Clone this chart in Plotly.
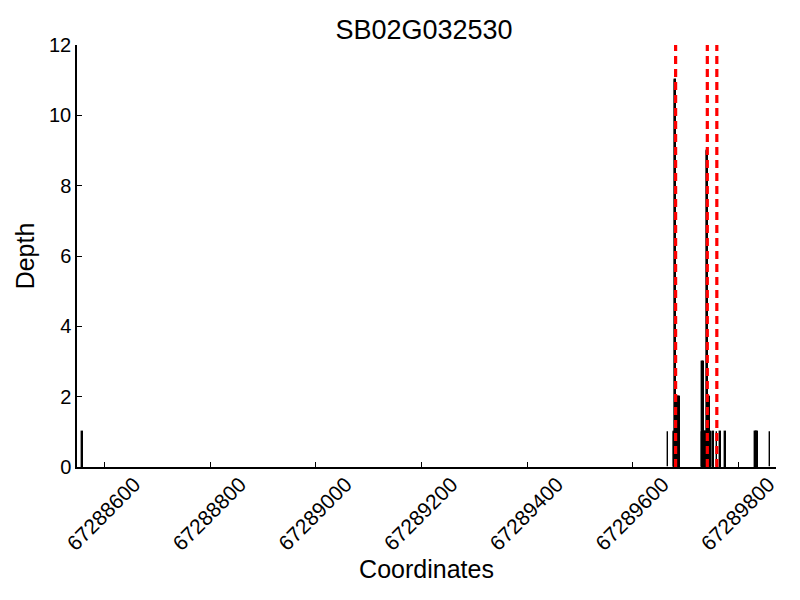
import plotly.graph_objects as go

title_text = "SB02G032530"

positions = [
    67288558,
    67289667,
    67289678, 67289679, 67289680, 67289681, 67289682, 67289683, 67289684,
    67289685, 67289686, 67289687, 67289688, 67289689,
    67289731, 67289732, 67289733, 67289734, 67289735, 67289736, 67289737, 67289738,
    67289739, 67289740, 67289741, 67289742, 67289743, 67289744, 67289745, 67289746,
    67289747, 67289748,
    67289752, 67289753,
    67289759,
    67289766, 67289767,
    67289775,
    67289832, 67289833, 67289834, 67289835, 67289836, 67289837,
    67289860,
]
depths = [
    1,
    1,
    1, 1, 11, 11, 11, 1, 1,
    2, 2, 2, 2, 2,
    1, 3, 3, 3, 1, 1, 1, 1,
    1, 9, 9, 9, 1, 2, 2, 2,
    1, 1,
    1, 1,
    1,
    1, 1,
    1,
    1, 1, 1, 1, 1, 1,
    1,
]

marker_positions = [67289681, 67289741, 67289759]

x_tickvals = [67288600, 67288800, 67289000, 67289200, 67289400, 67289600, 67289800]
x_ticktext = ["67288600", "67288800", "67289000", "67289200", "67289400", "67289600", "67289800"]
y_tickvals = [0, 2, 4, 6, 8, 10, 12]

FONT = "Liberation Sans, Arial, Helvetica, sans-serif"

fig = go.Figure()
fig.add_trace(go.Bar(
    x=positions, y=depths, width=1,
    marker=dict(color="black", line=dict(color="black", width=1.4)),
    showlegend=False,
))

for p in marker_positions:
    fig.add_shape(type="line", x0=p, x1=p, y0=0, y1=12, xref="x", yref="y",
                  line=dict(color="red", width=3.2, dash="8px,5px"), layer="above")

fig.update_layout(
    width=800, height=600,
    paper_bgcolor="white", plot_bgcolor="white",
    margin=dict(l=69, r=32, t=37, b=141),
    font=dict(family=FONT, color="black"),
    title=dict(text=title_text, x=0.52, xanchor="center", y=0.9633, yanchor="middle",
               yref="container", font=dict(size=27, family=FONT, color="black")),
    bargap=0,
)
fig.update_xaxes(
    range=[67288548, 67289871], automargin=False,
    tickvals=x_tickvals, ticktext=x_ticktext, tickangle=-45,
    ticklabelshift=30, ticklabelstandoff=-5,
    ticks="inside", ticklen=5, tickcolor="black", tickwidth=1,
    showline=True, linecolor="black", linewidth=1.5, mirror=False,
    showgrid=False, zeroline=False,
    tickfont=dict(size=21, family=FONT, color="black"),
    title=dict(text="Coordinates", font=dict(size=25, family=FONT, color="black"), standoff=4),
)
fig.update_yaxes(
    range=[0, 12], automargin=False,
    tickvals=y_tickvals,
    ticks="inside", ticklen=5, tickcolor="black", tickwidth=1,
    showline=True, linecolor="black", linewidth=1.5, mirror=False,
    showgrid=False, zeroline=False,
    tickfont=dict(size=20, family=FONT, color="black"),
    title=dict(text="Depth", font=dict(size=25, family=FONT, color="black"), standoff=7),
)

fig.write_html("out.html")
